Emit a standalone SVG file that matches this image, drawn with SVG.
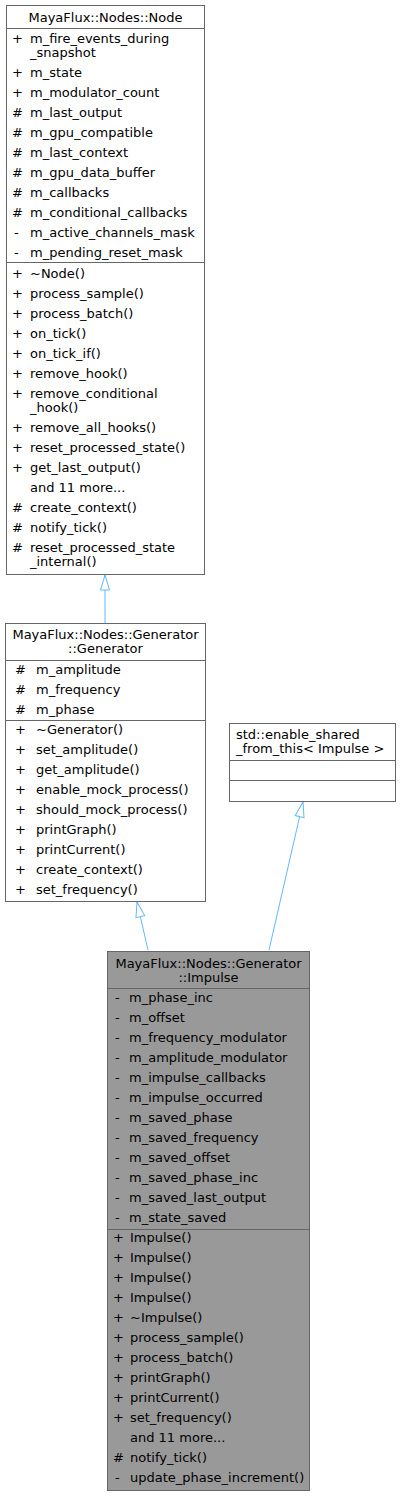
<svg xmlns="http://www.w3.org/2000/svg" width="400" height="1496" viewBox="0 0 400 1496">
<style>
text{font-family:"DejaVu Sans","Liberation Sans",sans-serif;font-size:13px;fill:#000}
.c{text-anchor:middle}
.box{fill:#fff;stroke:#666;stroke-width:1}
.cur{fill:#999;stroke:#666;stroke-width:1}
.sep{stroke:#666;stroke-width:1}
.edge{fill:none;stroke:#63b8ff;stroke-width:1;marker-end:url(#tri)}
</style>
<defs>
<marker id="tri" markerUnits="userSpaceOnUse" markerWidth="17" markerHeight="12" viewBox="-1 -1 17 12" refX="15" refY="5" orient="auto">
<path d="M0,0.5 L15,5 L0,9.5 z" fill="#fff" stroke="#63b8ff" stroke-width="1"/>
</marker>
</defs>
<g id="edges">
<path class="edge" d="M105,623 L105,575"/>
<path class="edge" d="M148,950 L137,902"/>
<path class="edge" d="M269,950 L303,802"/>
</g>
<g id="node">
<rect class="box" x="6.5" y="5.5" width="198" height="569"/>
<text class="c" x="105.5" y="22">MayaFlux::Nodes::Node</text>
<line class="sep" x1="6.5" y1="28.5" x2="204.5" y2="28.5"/>
<text x="12" y="43">+</text><text x="30" y="43">m_fire_events_during</text>
<text x="30" y="57">_snapshot</text>
<text x="12" y="77">+</text><text x="30" y="77">m_state</text>
<text x="12" y="97">+</text><text x="30" y="97">m_modulator_count</text>
<text x="12" y="117">#</text><text x="30" y="117">m_last_output</text>
<text x="12" y="137">#</text><text x="30" y="137">m_gpu_compatible</text>
<text x="12" y="157">#</text><text x="30" y="157">m_last_context</text>
<text x="12" y="177">#</text><text x="30" y="177">m_gpu_data_buffer</text>
<text x="12" y="197">#</text><text x="30" y="197">m_callbacks</text>
<text x="12" y="217">#</text><text x="30" y="217">m_conditional_callbacks</text>
<text x="14" y="237">-</text><text x="30" y="237">m_active_channels_mask</text>
<text x="14" y="257">-</text><text x="30" y="257">m_pending_reset_mask</text>
<line class="sep" x1="6.5" y1="262.5" x2="204.5" y2="262.5"/>
<text x="12" y="278">+</text><text x="30" y="278">~Node()</text>
<text x="12" y="298">+</text><text x="30" y="298">process_sample()</text>
<text x="12" y="318">+</text><text x="30" y="318">process_batch()</text>
<text x="12" y="338">+</text><text x="30" y="338">on_tick()</text>
<text x="12" y="358">+</text><text x="30" y="358">on_tick_if()</text>
<text x="12" y="378">+</text><text x="30" y="378">remove_hook()</text>
<text x="12" y="398">+</text><text x="30" y="398">remove_conditional</text>
<text x="30" y="412">_hook()</text>
<text x="12" y="432">+</text><text x="30" y="432">remove_all_hooks()</text>
<text x="12" y="452">+</text><text x="30" y="452">reset_processed_state()</text>
<text x="12" y="472">+</text><text x="30" y="472">get_last_output()</text>
<text x="30" y="492">and 11 more...</text>
<text x="12" y="512">#</text><text x="30" y="512">create_context()</text>
<text x="12" y="532">#</text><text x="30" y="532">notify_tick()</text>
<text x="12" y="552">#</text><text x="30" y="552">reset_processed_state</text>
<text x="30" y="566">_internal()</text>
</g>
<g id="generator">
<rect class="box" x="5.5" y="623.5" width="200" height="278"/>
<text class="c" x="105.5" y="639">MayaFlux::Nodes::Generator</text>
<text class="c" x="105.5" y="653">::Generator</text>
<line class="sep" x1="5.5" y1="660.5" x2="205.5" y2="660.5"/>
<text x="15" y="674">#</text><text x="36" y="674">m_amplitude</text>
<text x="15" y="694">#</text><text x="36" y="694">m_frequency</text>
<text x="15" y="714">#</text><text x="36" y="714">m_phase</text>
<line class="sep" x1="5.5" y1="720.5" x2="205.5" y2="720.5"/>
<text x="15" y="734">+</text><text x="36" y="734">~Generator()</text>
<text x="15" y="754">+</text><text x="36" y="754">set_amplitude()</text>
<text x="15" y="774">+</text><text x="36" y="774">get_amplitude()</text>
<text x="15" y="794">+</text><text x="36" y="794">enable_mock_process()</text>
<text x="15" y="814">+</text><text x="36" y="814">should_mock_process()</text>
<text x="15" y="834">+</text><text x="36" y="834">printGraph()</text>
<text x="15" y="854">+</text><text x="36" y="854">printCurrent()</text>
<text x="15" y="874">+</text><text x="36" y="874">create_context()</text>
<text x="15" y="894">+</text><text x="36" y="894">set_frequency()</text>
</g>
<g id="enable_shared">
<rect class="box" x="229.5" y="723.5" width="166" height="78"/>
<text x="236" y="739">std::enable_shared</text>
<text x="236" y="753">_from_this&lt; Impulse &gt;</text>
<line class="sep" x1="229.5" y1="760.5" x2="395.5" y2="760.5"/>
<line class="sep" x1="229.5" y1="780.5" x2="395.5" y2="780.5"/>
</g>
<g id="impulse">
<rect class="cur" x="107.5" y="951.5" width="202" height="539"/>
<text class="c" x="208.5" y="968">MayaFlux::Nodes::Generator</text>
<text class="c" x="208.5" y="982">::Impulse</text>
<line class="sep" x1="107.5" y1="988.5" x2="309.5" y2="988.5"/>
<text x="115" y="1002">-</text><text x="129" y="1002">m_phase_inc</text>
<text x="115" y="1022">-</text><text x="129" y="1022">m_offset</text>
<text x="115" y="1042">-</text><text x="129" y="1042">m_frequency_modulator</text>
<text x="115" y="1062">-</text><text x="129" y="1062">m_amplitude_modulator</text>
<text x="115" y="1082">-</text><text x="129" y="1082">m_impulse_callbacks</text>
<text x="115" y="1102">-</text><text x="129" y="1102">m_impulse_occurred</text>
<text x="115" y="1122">-</text><text x="129" y="1122">m_saved_phase</text>
<text x="115" y="1142">-</text><text x="129" y="1142">m_saved_frequency</text>
<text x="115" y="1162">-</text><text x="129" y="1162">m_saved_offset</text>
<text x="115" y="1182">-</text><text x="129" y="1182">m_saved_phase_inc</text>
<text x="115" y="1202">-</text><text x="129" y="1202">m_saved_last_output</text>
<text x="115" y="1222">-</text><text x="129" y="1222">m_state_saved</text>
<line class="sep" x1="107.5" y1="1229.5" x2="309.5" y2="1229.5"/>
<text x="113" y="1242">+</text><text x="130" y="1242">Impulse()</text>
<text x="113" y="1262">+</text><text x="130" y="1262">Impulse()</text>
<text x="113" y="1282">+</text><text x="130" y="1282">Impulse()</text>
<text x="113" y="1302">+</text><text x="130" y="1302">Impulse()</text>
<text x="113" y="1322">+</text><text x="130" y="1322">~Impulse()</text>
<text x="113" y="1342">+</text><text x="130" y="1342">process_sample()</text>
<text x="113" y="1362">+</text><text x="130" y="1362">process_batch()</text>
<text x="113" y="1382">+</text><text x="130" y="1382">printGraph()</text>
<text x="113" y="1402">+</text><text x="130" y="1402">printCurrent()</text>
<text x="113" y="1422">+</text><text x="130" y="1422">set_frequency()</text>
<text x="130" y="1442">and 11 more...</text>
<text x="113" y="1462">#</text><text x="130" y="1462">notify_tick()</text>
<text x="115" y="1482">-</text><text x="130" y="1482">update_phase_increment()</text>
</g>
</svg>
